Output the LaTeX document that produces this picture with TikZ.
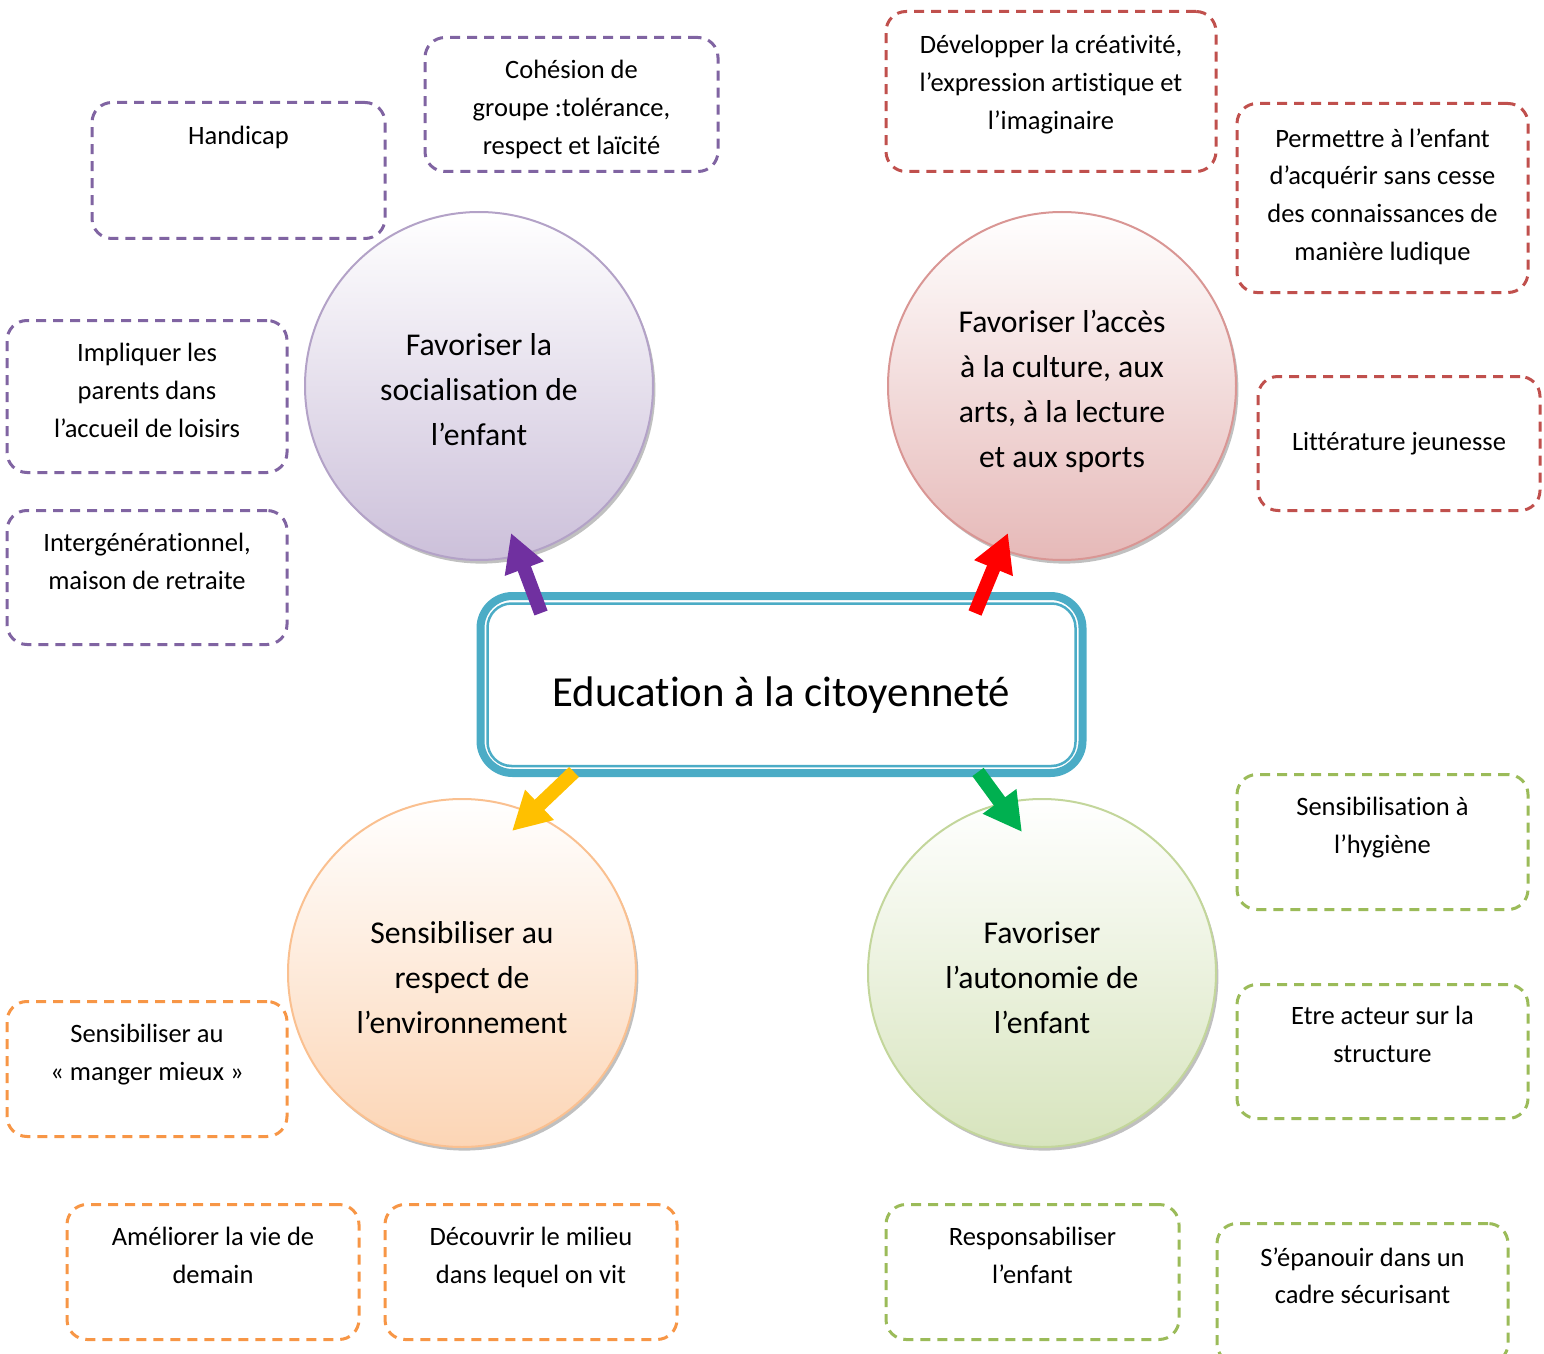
\documentclass[tikz,border=0pt]{standalone}
\usepackage{fontspec}
\setmainfont{Carlito}[Ligatures=NoCommon]
\usetikzlibrary{arrows.meta,shadows}
\definecolor{pline}{HTML}{8064A2}
\definecolor{rline}{HTML}{C0504D}
\definecolor{oline}{HTML}{F79646}
\definecolor{gline}{HTML}{9BBB59}
\definecolor{pcirc}{HTML}{B3A2C7}
\definecolor{pfill}{HTML}{CCC0DA}
\definecolor{rcirc}{HTML}{D99694}
\definecolor{rfill}{HTML}{E6B9B8}
\definecolor{ocirc}{HTML}{FAC090}
\definecolor{ofill}{HTML}{FCD5B5}
\definecolor{gcirc}{HTML}{C3D69B}
\definecolor{gfill}{HTML}{D7E4BD}
\definecolor{eduline}{HTML}{4BACC6}
\definecolor{aviolet}{HTML}{7030A0}
\definecolor{ared}{HTML}{FF0000}
\definecolor{ayellow}{HTML}{FFC000}
\definecolor{agreen}{HTML}{00B050}
\newcommand\infobox[8]{%
  \node[dbox, draw=#2, minimum width=#5*0.5pt, minimum height=#6*0.5pt, anchor=north] (#1) at (#3,#4) {};
  \node[boxtxt, anchor=north] (#1t) at ([yshift=-#7*0.5pt]#1.north) {#8};
}
\begin{document}
\begin{tikzpicture}[x=0.5pt,y=-0.5pt,
  dbox/.style={rectangle, dash pattern=on 5pt off 3.5pt, line width=1.5pt, rounded corners=10pt, inner sep=0pt},
  boxtxt/.style={inner sep=0pt, align=center, font=\fontsize{13.25}{18.85}\selectfont},
  circtxt/.style={inner sep=0pt, align=center, font=\fontsize{15.85}{22.5}\selectfont},
  bigcirc/.style={circle, minimum size=174pt, inner sep=0pt, line width=1pt,
    drop shadow={shadow xshift=1.2pt, shadow yshift=-1.8pt, fill=black!45, opacity=0.55}},
  blockarrow/.style={line width=7pt, -{Triangle[width=19.5pt,length=19pt]}}
]
\useasboundingbox (0,0) rectangle (1544,1354);

% circles
\node[bigcirc, draw=pcirc, top color=white, bottom color=pfill] (c1) at (479,386) {};
\node[bigcirc, draw=rcirc, top color=white, bottom color=rfill] (c2) at (1062,386) {};
\node[bigcirc, draw=ocirc, top color=white, bottom color=ofill] (c3) at (462,973) {};
\node[bigcirc, draw=gcirc, top color=white, bottom color=gfill] (c4) at (1042,973) {};
\node[circtxt] (c1t) at (479,390) {Favoriser la\\socialisation de\\l’enfant};
\node[circtxt] (c2t) at (1062,391) {Favoriser l’accès\\à la culture, aux\\arts, à la lecture\\et aux sports};
\node[circtxt] (c3t) at (462,978) {Sensibiliser au\\respect de\\l’environnement};
\node[circtxt] (c4t) at (1042,978) {Favoriser\\l’autonomie de\\l’enfant};

% centre box
\node[draw=eduline, fill=white, line width=4pt, rounded corners=16pt, minimum width=301pt, minimum height=88.5pt, inner sep=0pt] (edu) at (781.5,684.5) {};
\node[draw=eduline, line width=1.25pt, rounded corners=12pt, minimum width=294pt, minimum height=81.25pt, inner sep=0pt] (eduin) at (781.5,684.75) {};
\node[inner sep=0pt, font=\fontsize{21.4}{25}\selectfont] (edut) at (781.5,695) {Education à la citoyenneté};

% arrows
\coordinate (a1s) at (541,613); \coordinate (a1e) at (511,533);
\coordinate (a2s) at (975,613); \coordinate (a2e) at (1008,533);
\coordinate (a3s) at (574,772); \coordinate (a3e) at (512,831);
\coordinate (a4s) at (978,772); \coordinate (a4e) at (1022,832);
\draw[blockarrow, aviolet] (a1s) -- (a1e);
\draw[blockarrow, ared] (a2s) -- (a2e);
\draw[blockarrow, ayellow] (a3s) -- (a3e);
\draw[blockarrow, agreen] (a4s) -- (a4e);

% dashed boxes
\infobox{b1}{pline}{238.5}{101}{293}{136}{25}{Handicap}
\infobox{b2}{pline}{571.5}{36}{293}{134}{24}{Cohésion de\\groupe :tolérance,\\respect et laïcité}
\infobox{b3}{pline}{147}{319}{280}{152}{24}{Impliquer les\\parents dans\\l’accueil de loisirs}
\infobox{b4}{pline}{147}{509}{280}{134}{24}{Intergénérationnel,\\maison de retraite}
\infobox{b5}{rline}{1051}{10}{330}{160}{25}{Développer la créativité,\\l’expression artistique et\\l’imaginaire}
\infobox{b6}{rline}{1382.5}{102}{291}{189}{26}{Permettre à l’enfant\\d’acquérir sans cesse\\des connaissances de\\manière ludique}
\infobox{b7}{rline}{1399}{375}{282}{134}{57}{Littérature jeunesse}
\infobox{b8}{oline}{147}{1000}{280}{135}{24}{Sensibiliser au\\« manger mieux »}
\infobox{b9}{oline}{213}{1203}{292}{135}{24}{Améliorer la vie de\\demain}
\infobox{b10}{oline}{531}{1203}{292}{135}{24}{Découvrir le milieu\\dans lequel on vit}
\infobox{b11}{gline}{1382.5}{773}{291}{135}{24}{Sensibilisation à\\l’hygiène}
\infobox{b12}{gline}{1382.5}{983}{291}{134}{23}{Etre acteur sur la\\structure}
\infobox{b13}{gline}{1032.5}{1203}{293}{135}{24}{Responsabiliser\\l’enfant}
\infobox{b14}{gline}{1362.5}{1222}{291}{140}{25}{S’épanouir dans un\\cadre sécurisant}
\end{tikzpicture}
\end{document}
